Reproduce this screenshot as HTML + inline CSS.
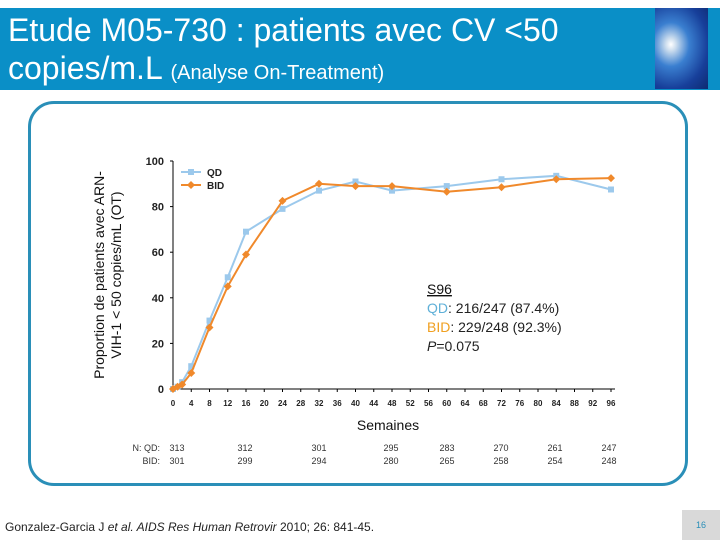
<!DOCTYPE html>
<html><head><meta charset="utf-8"><style>
body{margin:0;width:720px;height:540px;background:#fff;overflow:hidden;position:relative;font-family:"Liberation Sans",sans-serif}
.hdr{position:absolute;left:0;top:8px;width:720px;height:82px;background:#0a8fc7}
.t1{position:absolute;left:8px;top:11px;color:#fff;font-size:32px;line-height:38px;white-space:nowrap}
.logo{position:absolute;left:655px;top:8px;width:53px;height:81px;background:radial-gradient(ellipse at 30% 45%,#fff 0,#cde 10%,#3a7fd0 35%,#173f9a 70%,#0d2a70 100%)}
.box{position:absolute;left:28px;top:101px;width:654px;height:379px;border:3px solid #2a8fb8;border-radius:26px}
.foot{position:absolute;left:5px;top:520px;font-size:12px;color:#222}
.pg{position:absolute;left:682px;top:510px;width:38px;height:30px;background:#d9d9d9;color:#2a8fb8;font-size:9px;text-align:center;line-height:30px}
</style></head><body>
<div class="hdr"></div>
<div class="t1">Etude M05-730 : patients avec CV &lt;50<br>copies/m.L <span style="font-size:20px">(Analyse On-Treatment)</span></div>
<div class="logo"></div>
<div class="box"></div>
<svg id="ch" width="720" height="540" style="position:absolute;left:0;top:0"></svg>
<div class="foot">Gonzalez-Garcia J <i>et al. AIDS Res Human Retrovir</i> 2010; 26: 841-45.</div>
<div class="pg">16</div>
<script>
const weeks=[0,1,2,4,8,12,16,24,32,40,48,60,72,84,96];
const qd=[0,1,3,10,30,49,69,79,87,91,87,89,92,93.5,87.5];
const bid=[0,1,2,7,27,45,59,82.5,90,89,89,86.5,88.5,92,92.5];
const yTicks=[0,20,40,60,80,100];
const xTicks=[0,4,8,12,16,20,24,28,32,36,40,44,48,52,56,60,64,68,72,76,80,84,88,92,96];
const nQD=[313,312,301,295,283,270,261,247];
const nBID=[301,299,294,280,265,258,254,248];
const NS="http://www.w3.org/2000/svg",svg=document.getElementById('ch');
const X=w=>173+w*(611-173)/96, Y=v=>389-v*(389-161)/100;
function mk(t,a,txt){const e=document.createElementNS(NS,t);for(const k in a)e.setAttribute(k,a[k]);if(txt!=null)e.textContent=txt;svg.appendChild(e);return e;}
let e;
e=mk('line',{x1:173,y1:161,x2:173,y2:389,stroke:'#000','stroke-width':1});

e=mk('line',{x1:173,y1:389,x2:615,y2:389,stroke:'#000','stroke-width':1});

yTicks.forEach(v=>{mk('line',{x1:170,x2:173,y1:Y(v),y2:Y(v),stroke:'#000'});
e=mk('text',{x:164,y:Y(v)+4,'text-anchor':'end','font-size':11,'font-weight':'bold',fill:'#222'},v);
});
xTicks.forEach(v=>{mk('line',{x1:X(v),x2:X(v),y1:389,y2:392,stroke:'#000'});
e=mk('text',{x:X(v),y:406,'text-anchor':'middle','font-size':8,'font-weight':'bold',fill:'#222'},v);
});
function series(vals,col,shape,name){
 e=mk('polyline',{points:weeks.map((w,i)=>X(w)+','+Y(vals[i])).join(' '),fill:'none',stroke:col,'stroke-width':2});
 
 weeks.forEach((w,i)=>{const x=X(w),y=Y(vals[i]);
  if(shape=='sq')e=mk('rect',{x:x-3,y:y-3,width:6,height:6,fill:col});
  else e=mk('polygon',{points:`${x},${y-4} ${x+4},${y} ${x},${y+4} ${x-4},${y}`,fill:col});
  });
}
series(qd,'#9cc9ec','sq','qd');
series(bid,'#f0892b','di','bid');
mk('line',{x1:181,x2:201,y1:172,y2:172,stroke:'#9cc9ec','stroke-width':2});mk('rect',{x:188,y:169,width:6,height:6,fill:'#9cc9ec'});
e=mk('text',{x:207,y:176,'font-size':10,'font-weight':'bold',fill:'#222'},'QD');
mk('line',{x1:181,x2:201,y1:185,y2:185,stroke:'#f0892b','stroke-width':2});mk('polygon',{points:'191,181 195,185 191,189 187,185',fill:'#f0892b'});
e=mk('text',{x:207,y:189,'font-size':10,'font-weight':'bold',fill:'#222'},'BID');
e=mk('text',{x:427,y:294,'font-size':14,fill:'#111','text-decoration':'underline'},'S96');
e=mk('text',{x:427,y:313,'font-size':14,fill:'#222'});e.innerHTML='<tspan fill="#5fb0d8">QD</tspan>: 216/247 (87.4%)';
e=mk('text',{x:427,y:332,'font-size':14,fill:'#222'});e.innerHTML='<tspan fill="#f0a020">BID</tspan>: 229/248 (92.3%)';
e=mk('text',{x:427,y:351,'font-size':14,fill:'#222'});e.innerHTML='<tspan font-style="italic">P</tspan>=0.075';
e=mk('text',{x:388,y:430,'text-anchor':'middle','font-size':14,fill:'#111'},'Semaines');
e=mk('text',{transform:'translate(104,275) rotate(-90)','text-anchor':'middle','font-size':14,fill:'#111'});
e.innerHTML='<tspan x="0" dy="0">Proportion de patients avec ARN-</tspan><tspan x="0" dy="17">VIH-1 &lt; 50 copies/mL (OT)</tspan>';

e=mk('text',{x:160,y:451,'text-anchor':'end','font-size':9,fill:'#333'},'N: QD:');
e=mk('text',{x:160,y:464,'text-anchor':'end','font-size':9,fill:'#333'},'BID:');
const nx=[177,245,319,391,447,501,555,609];
nQD.forEach((v,i)=>{e=mk('text',{x:nx[i],y:451,'text-anchor':'middle','font-size':9,fill:'#333'},v);
e=mk('text',{x:nx[i],y:464,'text-anchor':'middle','font-size':9,fill:'#333'},nBID[i]);});
</script>
</body></html>
